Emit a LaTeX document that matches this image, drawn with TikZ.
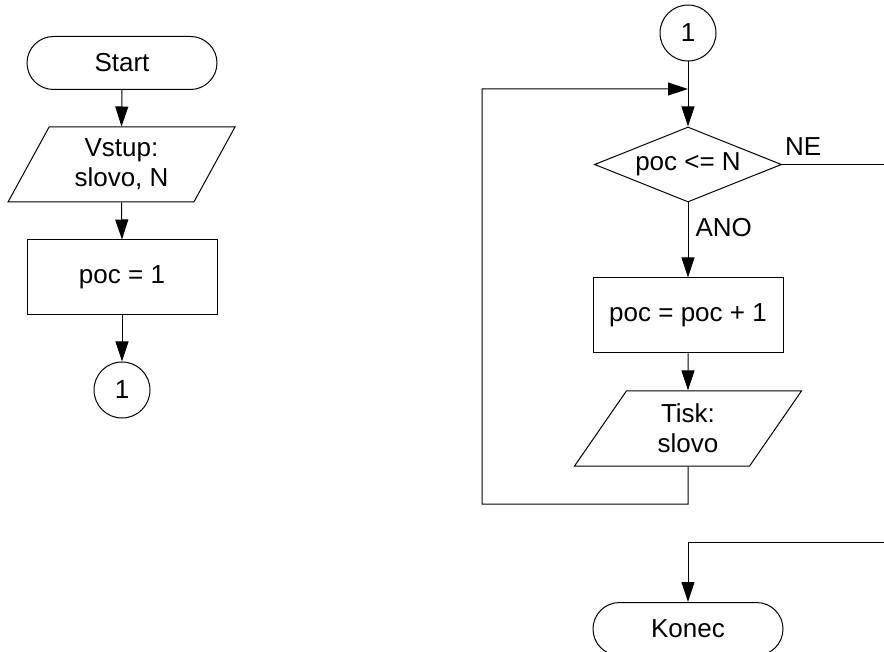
\documentclass[tikz,border=0pt]{standalone}
\usepackage{fontspec}
\setmainfont{Liberation Sans}
\usetikzlibrary{shapes.geometric,arrows.meta}
\begin{document}
\begin{tikzpicture}[x=1pt,y=-1pt,
  every node/.style={font=\fontsize{26}{30}\selectfont},
  base/.style={draw, line width=1pt, inner sep=0pt, align=center},
  term/.style={base, rectangle, rounded corners=26.5pt, minimum width=190pt, minimum height=53pt},
  proc/.style={base, rectangle, minimum width=190pt, minimum height=75pt},
  io/.style={base, trapezium, trapezium left angle=62.5, trapezium right angle=117.5,
             trapezium stretches=true, minimum width=227pt, minimum height=75pt},
  decision/.style={base, diamond, aspect=2.5, minimum width=187pt, minimum height=75pt},
  conn/.style={base, circle, minimum size=56pt},
  flow/.style={line width=1pt, -{Triangle[length=20pt,width=13pt]}},
  wire/.style={line width=1pt},
  lbl/.style={inner sep=0pt}
]
\path[use as bounding box] (0,0) rectangle (884,652);
\clip (0,0) rectangle (884,652);

% left column: start, input, initialisation, connector
\node[term]  (start) at (122,63)      {Start};
\node[io]    (input) at (121.5,164.5) {Vstup:\\slovo, N};
\node[proc]  (init)  at (122,277.5)   {poc = 1};
\node[conn]  (conA)  at (122,390)     {1};

\draw[flow] (start.south) -- (input.north);
\draw[flow] (input.south) -- (init.north);
\draw[flow] (init.south)  -- (conA.north);

% right column: loop
\node[conn]     (conB) at (688,33)    {1};
\coordinate     (join) at (688,89);
\node[decision] (test) at (688,164.5) {poc <= N};
\node[proc]     (inc)  at (688,315.5) {poc = poc + 1};
\node[io]       (out)  at (688,428.5) {Tisk:\\slovo};
\node[term]     (stop) at (688,629)   {Konec};

\coordinate (loopB)  at (688,504);
\coordinate (loopL)  at (482,504);
\coordinate (loopT)  at (482,89);
\coordinate (exitA)  at (886,164.5);
\coordinate (exitB)  at (886,542);
\coordinate (exitC)  at (688,542);

\draw[wire] (conB.south) -- (join);
\draw[flow] (join) -- (test.north);
\draw[flow] (test.south) -- (inc.north)
  node[lbl, pos=0.33, anchor=west, xshift=7pt] (ano) {ANO};
\draw[flow] (inc.south) -- (out.north);
\draw[flow] (out.south) -- (loopB) -- (loopL) -- (loopT) -- (join);

\node[lbl, anchor=base west, xshift=3pt, yshift=9pt] (ne) at (test.east) {NE};
\draw[flow] (test.east) -- (exitA) -- (exitB) -- (exitC) -- (stop.north);
\end{tikzpicture}
\end{document}
